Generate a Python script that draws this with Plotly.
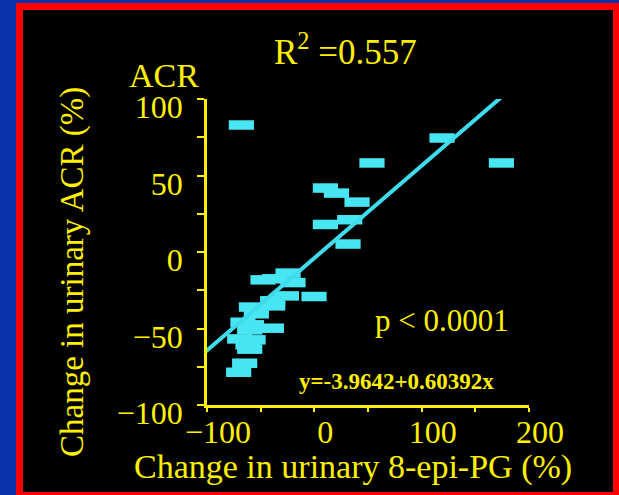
import plotly.graph_objects as go

# Change in urinary 8-epi-PG (%) vs change in urinary ACR (%)
epi_pg_change = [
    -68.0, 119.0, 53.7, 174.3, 10.3, 20.6, 39.8, 10.3, 33.0, 31.4,
    -24.5, -47.8, -36.9, -19.9, -26.0, -0.3, -38.8, -38.8, -58.6, -54.0,
    -66.5, -58.6, -40.0, -60.2, -69.5, -57.1, -61.8, -60.2, -64.9, -70.5,
]
acr_change = [
    83.0, 74.5, 58.2, 58.2, 41.8, 38.5, 32.6, 18.0, 21.1, 5.2,
    -13.8, -18.2, -17.5, -20.0, -28.7, -29.1, -31.9, -35.2, -36.0, -40.4,
    -45.9, -47.6, -49.8, -50.9, -56.8, -57.4, -60.7, -63.5, -72.7, -78.6,
]

# Regression: y = -3.9642 + 0.60392x
intercept = -3.9642
slope = 0.60392
fit_x = [-105.0, 200.0]
fit_y = [intercept + slope * v for v in fit_x]

x_ticks = [-100, 0, 100, 200]
y_ticks = [-100, -50, 0, 50, 100]

W, H = 619, 495
ML, MR, MT, MB = 207, 90, 99, 90
PW, PH = W - ML - MR, H - MT - MB

YELLOW = "#FFF000"
CYAN = "#48E6F2"
FONT = "Liberation Serif"


def px2x(px):
    return (px - ML) / PW


def py2y(py):
    return (H - MB - py) / PH


fig = go.Figure()

fig.add_trace(go.Scatter(
    x=epi_pg_change, y=acr_change, mode="markers",
    marker=dict(symbol="line-ew", size=18, color=CYAN,
                line=dict(width=9.5, color=CYAN)),
    cliponaxis=False, showlegend=False, hoverinfo="skip",
))
fig.add_trace(go.Scatter(
    x=fit_x, y=fit_y, mode="lines",
    line=dict(color="#3FDCEE", width=4),
    showlegend=False, hoverinfo="skip",
))

axis_common = dict(
    showgrid=False, zeroline=False, showline=True,
    linecolor=YELLOW, linewidth=2.5,
    ticks="outside", tickcolor=YELLOW, tickwidth=2,
    tickfont=dict(family=FONT, size=32, color=YELLOW),
)

fig.update_xaxes(
    range=[-100, 200], tickvals=x_ticks, ticklen=4,
    minor=dict(dtick=50, tick0=-100, ticks="outside", ticklen=4,
               tickcolor=YELLOW, tickwidth=2),
    ticklabelstandoff=-7, ticklabelshift=11,
    **axis_common,
)
fig.update_yaxes(
    range=[-100, 100], tickvals=y_ticks, ticklen=7,
    minor=dict(dtick=25, tick0=-100, ticks="outside", ticklen=7,
               tickcolor=YELLOW, tickwidth=2),
    ticklabelstandoff=8, ticklabelshift=8,
    **axis_common,
)

# red frame with black panel
fig.add_shape(
    type="rect", xref="paper", yref="paper", layer="below",
    x0=px2x(19.5), x1=px2x(616.5), y0=py2y(495.5), y1=py2y(6.5),
    line=dict(color="#FF0000", width=7), fillcolor="black",
)


def label(text, px, py, size, angle=0, bold=False):
    fig.add_annotation(
        text=f"<b>{text}</b>" if bold else text,
        xref="paper", yref="paper", x=px2x(px), y=py2y(py),
        xanchor="center", yanchor="middle", showarrow=False,
        textangle=angle,
        font=dict(family=FONT, size=size, color=YELLOW),
    )


label("R<sup>2</sup> =0.557", 345, 50, 35)
label("ACR", 164, 75, 34)
label("p &lt; 0.0001", 442, 320, 31)
label("y=-3.9642+0.60392x", 396, 381, 23, bold=True)
label("Change in urinary ACR (%)", 72, 272, 33, angle=-90)
label("Change in urinary 8-epi-PG (%)", 353, 467, 34)

fig.update_layout(
    width=W, height=H,
    margin=dict(l=ML, r=MR, t=MT, b=MB),
    paper_bgcolor="#0A32AA", plot_bgcolor="black",
)

fig.write_html("out.html")
